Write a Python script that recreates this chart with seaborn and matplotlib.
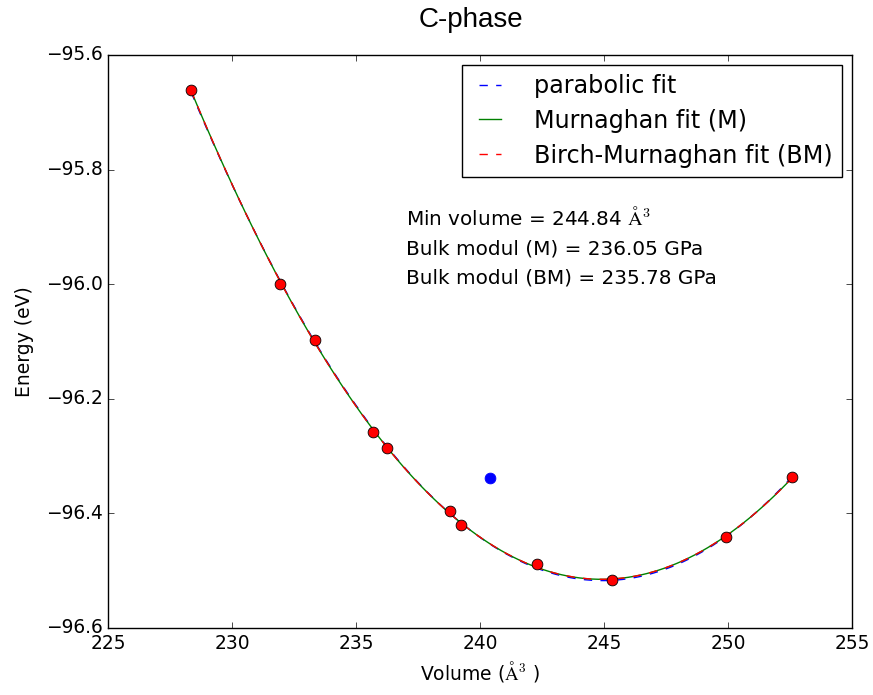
import matplotlib
matplotlib.use("Agg")
import matplotlib.pyplot as plt
import seaborn as sns
import numpy as np
import pandas as pd

# data
volume = [228.35, 231.94, 233.35, 235.68, 236.27, 238.79, 239.22, 242.29, 245.33, 249.91, 252.59]
energy = [-95.661, -96.000, -96.097, -96.258, -96.285, -96.395, -96.421, -96.489, -96.517, -96.442, -96.336]
extra_volume = [240.40]
extra_energy = [-96.338]
labels = ["parabolic fit", "Murnaghan fit (M)", "Birch-Murnaghan fit (BM)"]
info_lines = [r"Min volume = 244.84 $\mathrm{\AA}^3$",
              "Bulk modul (M) = 236.05 GPa",
              "Bulk modul (BM) = 235.78 GPa"]
info_y = [-95.896, -95.949, -95.998]

df = pd.DataFrame({"Volume": volume, "Energy": energy})
dfx = pd.DataFrame({"Volume": extra_volume, "Energy": extra_energy})

plt.style.use("classic")
fig = plt.figure(figsize=(8.73, 6.95), dpi=100, facecolor="white")
ax = fig.add_axes([108/873, 1-628/695, (852-108)/873, (628-55)/695])

sns.regplot(data=df, x="Volume", y="Energy", order=2, ci=None, scatter=False, ax=ax,
            line_kws=dict(color="blue", ls="--", lw=1.0))
sns.regplot(data=df, x="Volume", y="Energy", order=3, ci=None, scatter=False, ax=ax,
            line_kws=dict(color="green", ls="-", lw=1.0))
sns.regplot(data=df, x="Volume", y="Energy", order=3, ci=None, scatter=False, ax=ax,
            line_kws=dict(color="red", ls="--", lw=1.0))
fit_lines = list(ax.lines[:3])
for ln, lab in zip(fit_lines, labels):
    ln.set_label(lab)

sns.scatterplot(data=df, x="Volume", y="Energy", color="red", edgecolor="black",
                linewidth=0.6, s=60, ax=ax, zorder=5, legend=False)
sns.scatterplot(data=dfx, x="Volume", y="Energy", color="blue", edgecolor="blue",
                linewidth=0.6, s=60, ax=ax, zorder=5, legend=False)

ax.set_xlim(225, 255)
ax.set_ylim(-96.6, -95.6)
ax.set_xticks(np.arange(225, 256, 5))
ax.set_yticks(np.arange(-96.6, -95.59, 0.2))
ax.set_xlabel(r"Volume ($\mathrm{\AA}^3$ )", fontsize=13.5)
ax.set_ylabel("Energy (eV)", fontsize=13.5, labelpad=8)
ax.tick_params(labelsize=13.4)

for t, yy in zip(info_lines, info_y):
    ax.text(237.0, yy, t, fontsize=14.4, va="baseline", ha="left")

ax.legend(handles=fit_lines, labels=labels, loc="upper right", fontsize=17.2,
          numpoints=2, handlelength=1.5, handletextpad=1.1, labelspacing=0.45,
          borderaxespad=0.4)

fig.text(471/873, 1-27/695, "C-phase", fontsize=20, family="Liberation Sans",
         ha="center", va="baseline")

fig.savefig("out.png", dpi=100, facecolor="white")
